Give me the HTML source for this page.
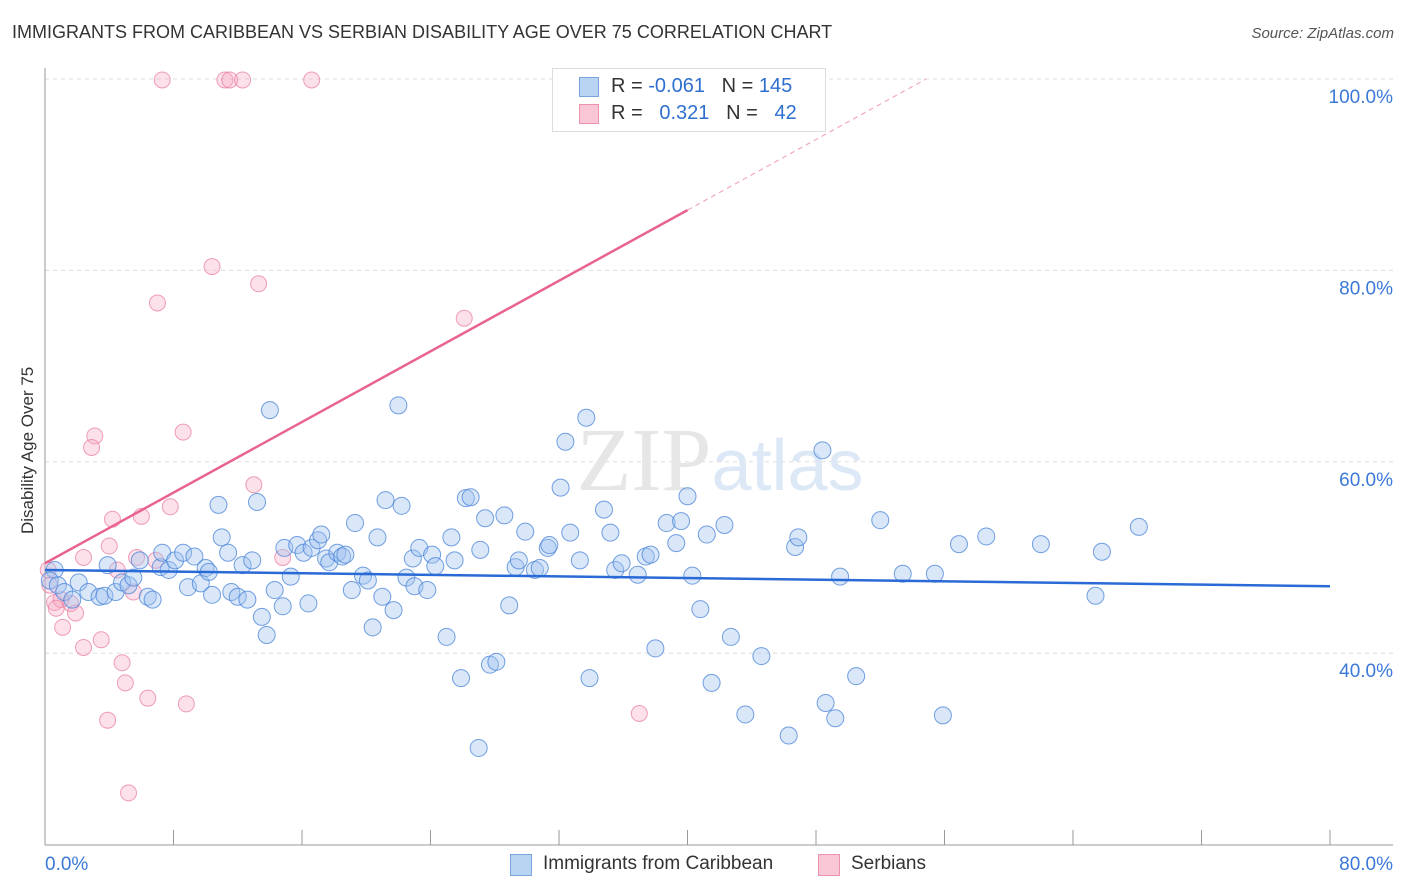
<!DOCTYPE html>
<html><head><meta charset="utf-8"><style>
body{margin:0;background:#fff;font-family:"Liberation Sans",sans-serif;}
#wrap{position:relative;width:1406px;height:892px;overflow:hidden;}
.t{position:absolute;white-space:nowrap;}
</style></head><body>
<div id="wrap">
<div class="t" style="left:12px;top:22px;font-size:18px;color:#333;">IMMIGRANTS FROM CARIBBEAN VS SERBIAN DISABILITY AGE OVER 75 CORRELATION CHART</div>
<div class="t" style="right:12px;top:25px;font-size:15px;color:#555;font-style:italic;">Source: ZipAtlas.com</div>
<div class="t" style="left:-52px;top:444px;font-size:17px;color:#333;transform:rotate(-90deg);width:160px;text-align:center;">Disability Age Over 75</div>
<svg id="svg" width="1406" height="892" style="position:absolute;left:0;top:0"></svg>
<div style="position:absolute;left:552px;top:68px;width:272px;height:62px;border:1px solid #ddd;background:#fff;font-size:20px;">
 <div style="position:absolute;left:26px;top:8px;width:18px;height:18px;background:#b9d3f3;border:1px solid #7aa6e0;"></div>
 <div class="t" style="left:58px;top:6px;color:#333">R = <span style="color:#2e6fd0">-0.061</span>&nbsp;&nbsp;&nbsp;N = <span style="color:#2e6fd0">145</span></div>
 <div style="position:absolute;left:26px;top:35px;width:18px;height:18px;background:#f9c6d5;border:1px solid #ec94ae;"></div>
 <div class="t" style="left:58px;top:33px;color:#333">R = &nbsp;&nbsp;<span style="color:#2e6fd0">0.321</span>&nbsp;&nbsp;&nbsp;N = &nbsp;&nbsp;<span style="color:#2e6fd0">42</span></div>
</div>
<div style="position:absolute;left:510px;top:852px;font-size:19px;color:#333;">
 <div style="position:absolute;left:0;top:2px;width:20px;height:20px;background:#b9d3f3;border:1px solid #7aa6e0;"></div>
 <div class="t" style="left:33px;top:1px">Immigrants from Caribbean</div>
 <div style="position:absolute;left:308px;top:2px;width:20px;height:20px;background:#f9c6d5;border:1px solid #ec94ae;"></div>
 <div class="t" style="left:341px;top:1px">Serbians</div>
</div>
</div>
<script>
const blueX=[0.6,0.3,0.8,1.2,1.7,2.1,2.7,3.4,3.7,3.9,4.4,4.8,5.2,5.5,5.9,6.4,6.7,7.2,7.3,7.7,8.1,8.6,8.9,9.3,9.7,10.0,10.2,10.4,10.8,11.0,11.4,11.6,12.0,12.3,12.6,12.9,13.2,13.5,13.8,14.0,14.3,14.8,14.9,15.3,15.7,16.1,16.4,16.6,17.0,17.2,17.5,17.7,18.2,18.5,18.7,19.1,19.3,19.8,20.1,20.4,20.7,21.0,21.2,21.7,22.0,22.2,22.5,22.9,23.0,23.3,23.8,24.1,24.3,25.0,25.3,25.5,25.9,26.2,26.5,27.1,27.0,27.4,27.7,28.1,28.6,28.9,29.3,29.5,29.9,30.5,30.8,31.3,31.4,32.1,32.4,32.7,33.3,33.7,33.9,34.8,35.2,35.5,35.9,36.9,37.4,37.7,38.0,38.7,39.3,39.6,40.0,40.3,40.8,41.2,41.5,42.3,42.7,43.6,44.6,46.3,46.7,46.9,48.4,48.6,49.2,49.5,50.5,52.0,53.4,55.4,55.9,56.9,58.6,62.0,65.4,65.8,68.1];
const blueY=[48.7,47.6,47.1,46.4,45.6,47.4,46.4,45.9,46.0,49.2,46.4,47.4,47.1,47.9,49.7,45.9,45.6,49.0,50.5,48.7,49.7,50.5,46.9,50.1,47.3,48.9,48.5,46.1,55.5,52.1,50.5,46.4,45.9,49.2,45.6,49.7,55.8,43.8,41.9,65.4,46.6,44.9,51.0,48.0,51.3,50.5,45.2,51.0,51.8,52.4,49.9,49.5,50.5,50.1,50.3,46.6,53.6,48.1,47.6,42.7,52.1,45.9,56.0,44.5,65.9,55.4,47.9,49.9,47.0,51.0,46.6,50.3,49.1,41.7,52.1,49.7,37.4,56.2,56.3,50.8,30.1,54.1,38.8,39.1,54.4,45.0,49.0,49.7,52.7,48.7,48.9,51.0,51.3,57.3,62.1,52.6,49.7,64.6,37.4,55.0,52.6,48.7,49.4,48.2,50.1,50.3,40.5,53.6,51.5,53.8,56.4,48.1,44.6,52.4,36.9,53.4,41.7,33.6,39.7,31.4,51.1,52.1,61.2,34.8,33.2,48.0,37.6,53.9,48.3,48.3,33.5,51.4,52.2,51.4,46.0,50.6,53.2];
const pinkX=[7.3,11.2,11.5,12.3,16.6,10.4,13.3,7.0,26.1,3.1,2.9,8.6,13.0,7.8,6.0,4.2,4.0,5.7,2.4,14.8,4.5,0.3,0.6,1.0,1.6,1.9,0.7,1.1,3.5,2.4,4.8,5.0,6.4,8.8,3.9,37.0,5.2,5.5,6.9,0.2];
const pinkY=[99.9,99.9,99.9,99.9,99.9,80.4,78.6,76.6,75.0,62.7,61.5,63.1,57.6,55.3,54.3,54.0,51.2,50.0,50.0,50.0,48.7,47.1,45.3,45.6,45.2,44.2,44.7,42.7,41.4,40.6,39.0,36.9,35.3,34.7,33.0,33.7,25.4,46.4,49.7,48.7];
const blueLine=[48.7,47.0]; // y at x=0 and x=80
const pinkLine=[49.4,86.3]; // y at x=0 and x=40
const yTicks=[40,60,80,100];
const xTickLabels=["0.0%","80.0%"];

const NS="http://www.w3.org/2000/svg";
const svg=document.getElementById('svg');
const X0=45,X1=1330;
const sx=v=>X0+(v/80)*(X1-X0);
const sy=v=>79+(100-v)*9.57;
function mk(tag,attrs,parent){const e=document.createElementNS(NS,tag);for(const k in attrs)e.setAttribute(k,attrs[k]);(parent||svg).appendChild(e);return e;}
yTicks.forEach(t=>{
 const g=mk('line',{x1:X0,x2:1393,y1:sy(t),y2:sy(t),stroke:'#ddd','stroke-dasharray':'4,4'});
 
 
 const l=mk('text',{x:1393,y:sy(t)+24,'text-anchor':'end','font-size':19,fill:'#3b78d8','font-family':'Liberation Sans'});
 l.textContent=t.toFixed(1)+'%';
 
 
});
const ax=mk('line',{x1:X0,x2:X0,y1:68,y2:845,stroke:'#999'});


const bx=mk('line',{x1:X0,x2:1393,y1:845,y2:845,stroke:'#999'});


for(let i=0;i<=10;i++){
 const tk=mk('line',{x1:sx(i*8),x2:sx(i*8),y1:830,y2:845,stroke:'#999'});
 
 
}
[[0,'start',45],[80,'end',1393]].forEach((d,i)=>{
 const l=mk('text',{x:d[2],y:870,'text-anchor':d[1],'font-size':19,fill:'#3b78d8','font-family':'Liberation Sans'});
 l.textContent=xTickLabels[i];
 
 
});
const wm=mk('text',{x:720,y:490,'text-anchor':'middle','font-size':90,fill:'#e6e6e6','font-family':'Liberation Serif'});
wm.innerHTML='ZIP<tspan fill="#dce8f6" font-family="Liberation Sans" font-size="72">atlas</tspan>';


pinkX.forEach((x,i)=>{
 const c=mk('circle',{cx:sx(x),cy:sy(pinkY[i]),r:8,fill:'rgba(246,170,195,0.35)',stroke:'rgba(232,120,155,0.7)','stroke-width':1});
 
 
});
blueX.forEach((x,i)=>{
 const c=mk('circle',{cx:sx(x),cy:sy(blueY[i]),r:8.5,fill:'rgba(160,196,240,0.4)',stroke:'rgba(70,130,215,0.75)','stroke-width':1});
 
 
});
const bl=mk('line',{x1:sx(0),y1:sy(blueLine[0]),x2:sx(80),y2:sy(blueLine[1]),stroke:'#2a6ad6','stroke-width':2.5});


const slope=(pinkLine[1]-pinkLine[0])/40;
const xEnd=(100-pinkLine[0])/slope;
const pl=mk('line',{x1:sx(0),y1:sy(pinkLine[0]),x2:sx(40),y2:sy(pinkLine[1]),stroke:'#e8648f','stroke-width':2.5});


const pd=mk('line',{x1:sx(40),y1:sy(pinkLine[1]),x2:sx(xEnd),y2:sy(100),stroke:'#f0a9bf','stroke-width':1.2,'stroke-dasharray':'5,4'});


</script>
</body></html>
